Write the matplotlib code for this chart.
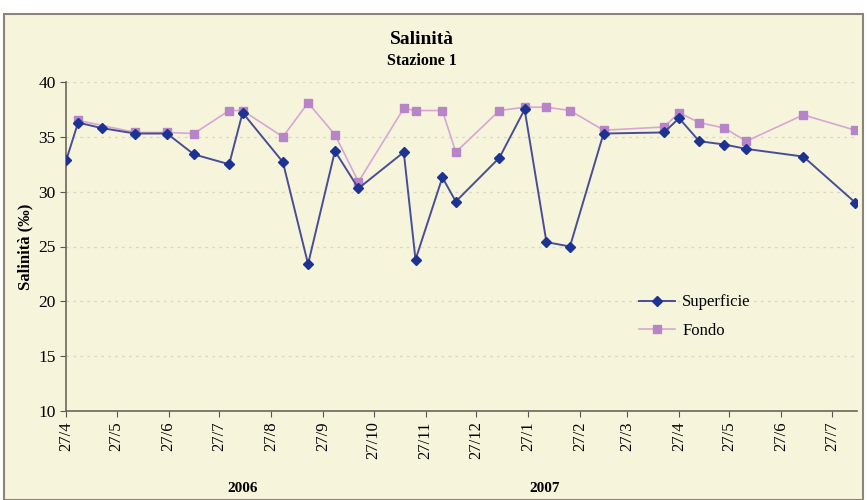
import numpy as np
import pandas as pd
import matplotlib
matplotlib.use('Agg')
from matplotlib import pyplot as plt

#Data - days after 27/4/2006
start = pd.Timestamp('2006-04-27')
sup_days = [0, 7, 21, 41, 60, 76, 97, 105, 129, 144, 160, 174, 201, 208, 224, 232, 258, 273, 286, 300, 320, 356, 365, 377, 392, 405, 439, 470]
sup_vals = [32.9, 36.3, 35.8, 35.3, 35.3, 33.4, 32.5, 37.2, 32.7, 23.4, 33.7, 30.3, 33.6, 23.8, 31.3, 29.1, 33.1, 37.5, 25.4, 25.0, 35.3, 35.4, 36.7, 34.6, 34.3, 33.9, 33.2, 29.0]
fon_days = [7, 41, 60, 76, 97, 105, 129, 144, 160, 174, 201, 208, 224, 232, 258, 273, 286, 300, 320, 356, 365, 377, 392, 405, 439, 470]
fon_vals = [36.5, 35.4, 35.4, 35.3, 37.4, 37.4, 35.0, 38.1, 35.2, 30.9, 37.6, 37.4, 37.4, 33.6, 37.4, 37.7, 37.7, 37.4, 35.6, 35.9, 37.2, 36.3, 35.8, 34.6, 37.0, 35.6]
tick_labels = ['27/4', '27/5', '27/6', '27/7', '27/8', '27/9', '27/10', '27/11', '27/12',
               '27/1', '27/2', '27/3', '27/4', '27/5', '27/6', '27/7']
years = ['2006', '2007']

sup_dates = [start + pd.Timedelta(days=d) for d in sup_days]
fon_dates = [start + pd.Timedelta(days=d) for d in fon_days]
tick_dates = [start + pd.DateOffset(months=i) for i in range(len(tick_labels))]

plt.rcParams['font.family'] = ['Liberation Serif', 'DejaVu Serif']
bg = '#f6f5dc'

fig = plt.figure(figsize=(8.67, 5), dpi=100, facecolor='white')
#Frame around the chart area
fig.patches.append(plt.Rectangle((0.005, 0.0), 0.99, 0.972, transform=fig.transFigure,
                                 facecolor=bg, edgecolor='#8a8577', linewidth=1.5, zorder=-10))
ax = fig.add_axes([0.0765, 0.178, 0.912, 0.658])
ax.set_facecolor(bg)

ax.plot(fon_dates, fon_vals, color='#d6a6d4', lw=1.2, marker='s', ms=6,
        mfc='#b884c8', mec='#b884c8', label='Fondo', zorder=2)
ax.plot(sup_dates, sup_vals, color='#4a4d96', lw=1.4, marker='D', ms=5,
        mfc='#1c3393', mec='#1c3393', label='Superficie', zorder=3)

ax.set_ylim(10, 40)
ax.set_yticks(np.arange(10, 41, 5))
ax.set_xlim(start, start + pd.Timedelta(days=471))
ax.set_xticks(tick_dates)
ax.set_xticklabels(tick_labels, rotation=90, fontsize=12)
ax.tick_params(axis='y', labelsize=12.5, length=4, color='#555555')
ax.tick_params(axis='x', length=4, color='#555555')
ax.yaxis.grid(True, linestyle=(0, (2, 3)), color='#d9d8c6', lw=1)
ax.set_axisbelow(True)
for s in ['top', 'right']:
    ax.spines[s].set_visible(False)
for s in ['left', 'bottom']:
    ax.spines[s].set_color('#6b6658')
    ax.spines[s].set_linewidth(1.2)

ax.set_ylabel('Salinità (‰)', fontsize=12, fontweight='bold', labelpad=4)

fig.text(0.487, 0.922, 'Salinità', ha='center', va='center', fontsize=14, fontweight='bold')
fig.text(0.487, 0.878, 'Stazione 1', ha='center', va='center', fontsize=11.5, fontweight='bold')
fig.text(0.28, 0.023, years[0], ha='center', va='center', fontsize=11, fontweight='bold')
fig.text(0.628, 0.023, years[1], ha='center', va='center', fontsize=11, fontweight='bold')

h, l = ax.get_legend_handles_labels()
ax.legend(h[::-1], l[::-1], loc='upper left', bbox_to_anchor=(0.705, 0.40), frameon=False,
          fontsize=12, handlelength=2.2, labelspacing=0.75, handletextpad=0.4)

plt.savefig('out.png', dpi=100, facecolor='white')
